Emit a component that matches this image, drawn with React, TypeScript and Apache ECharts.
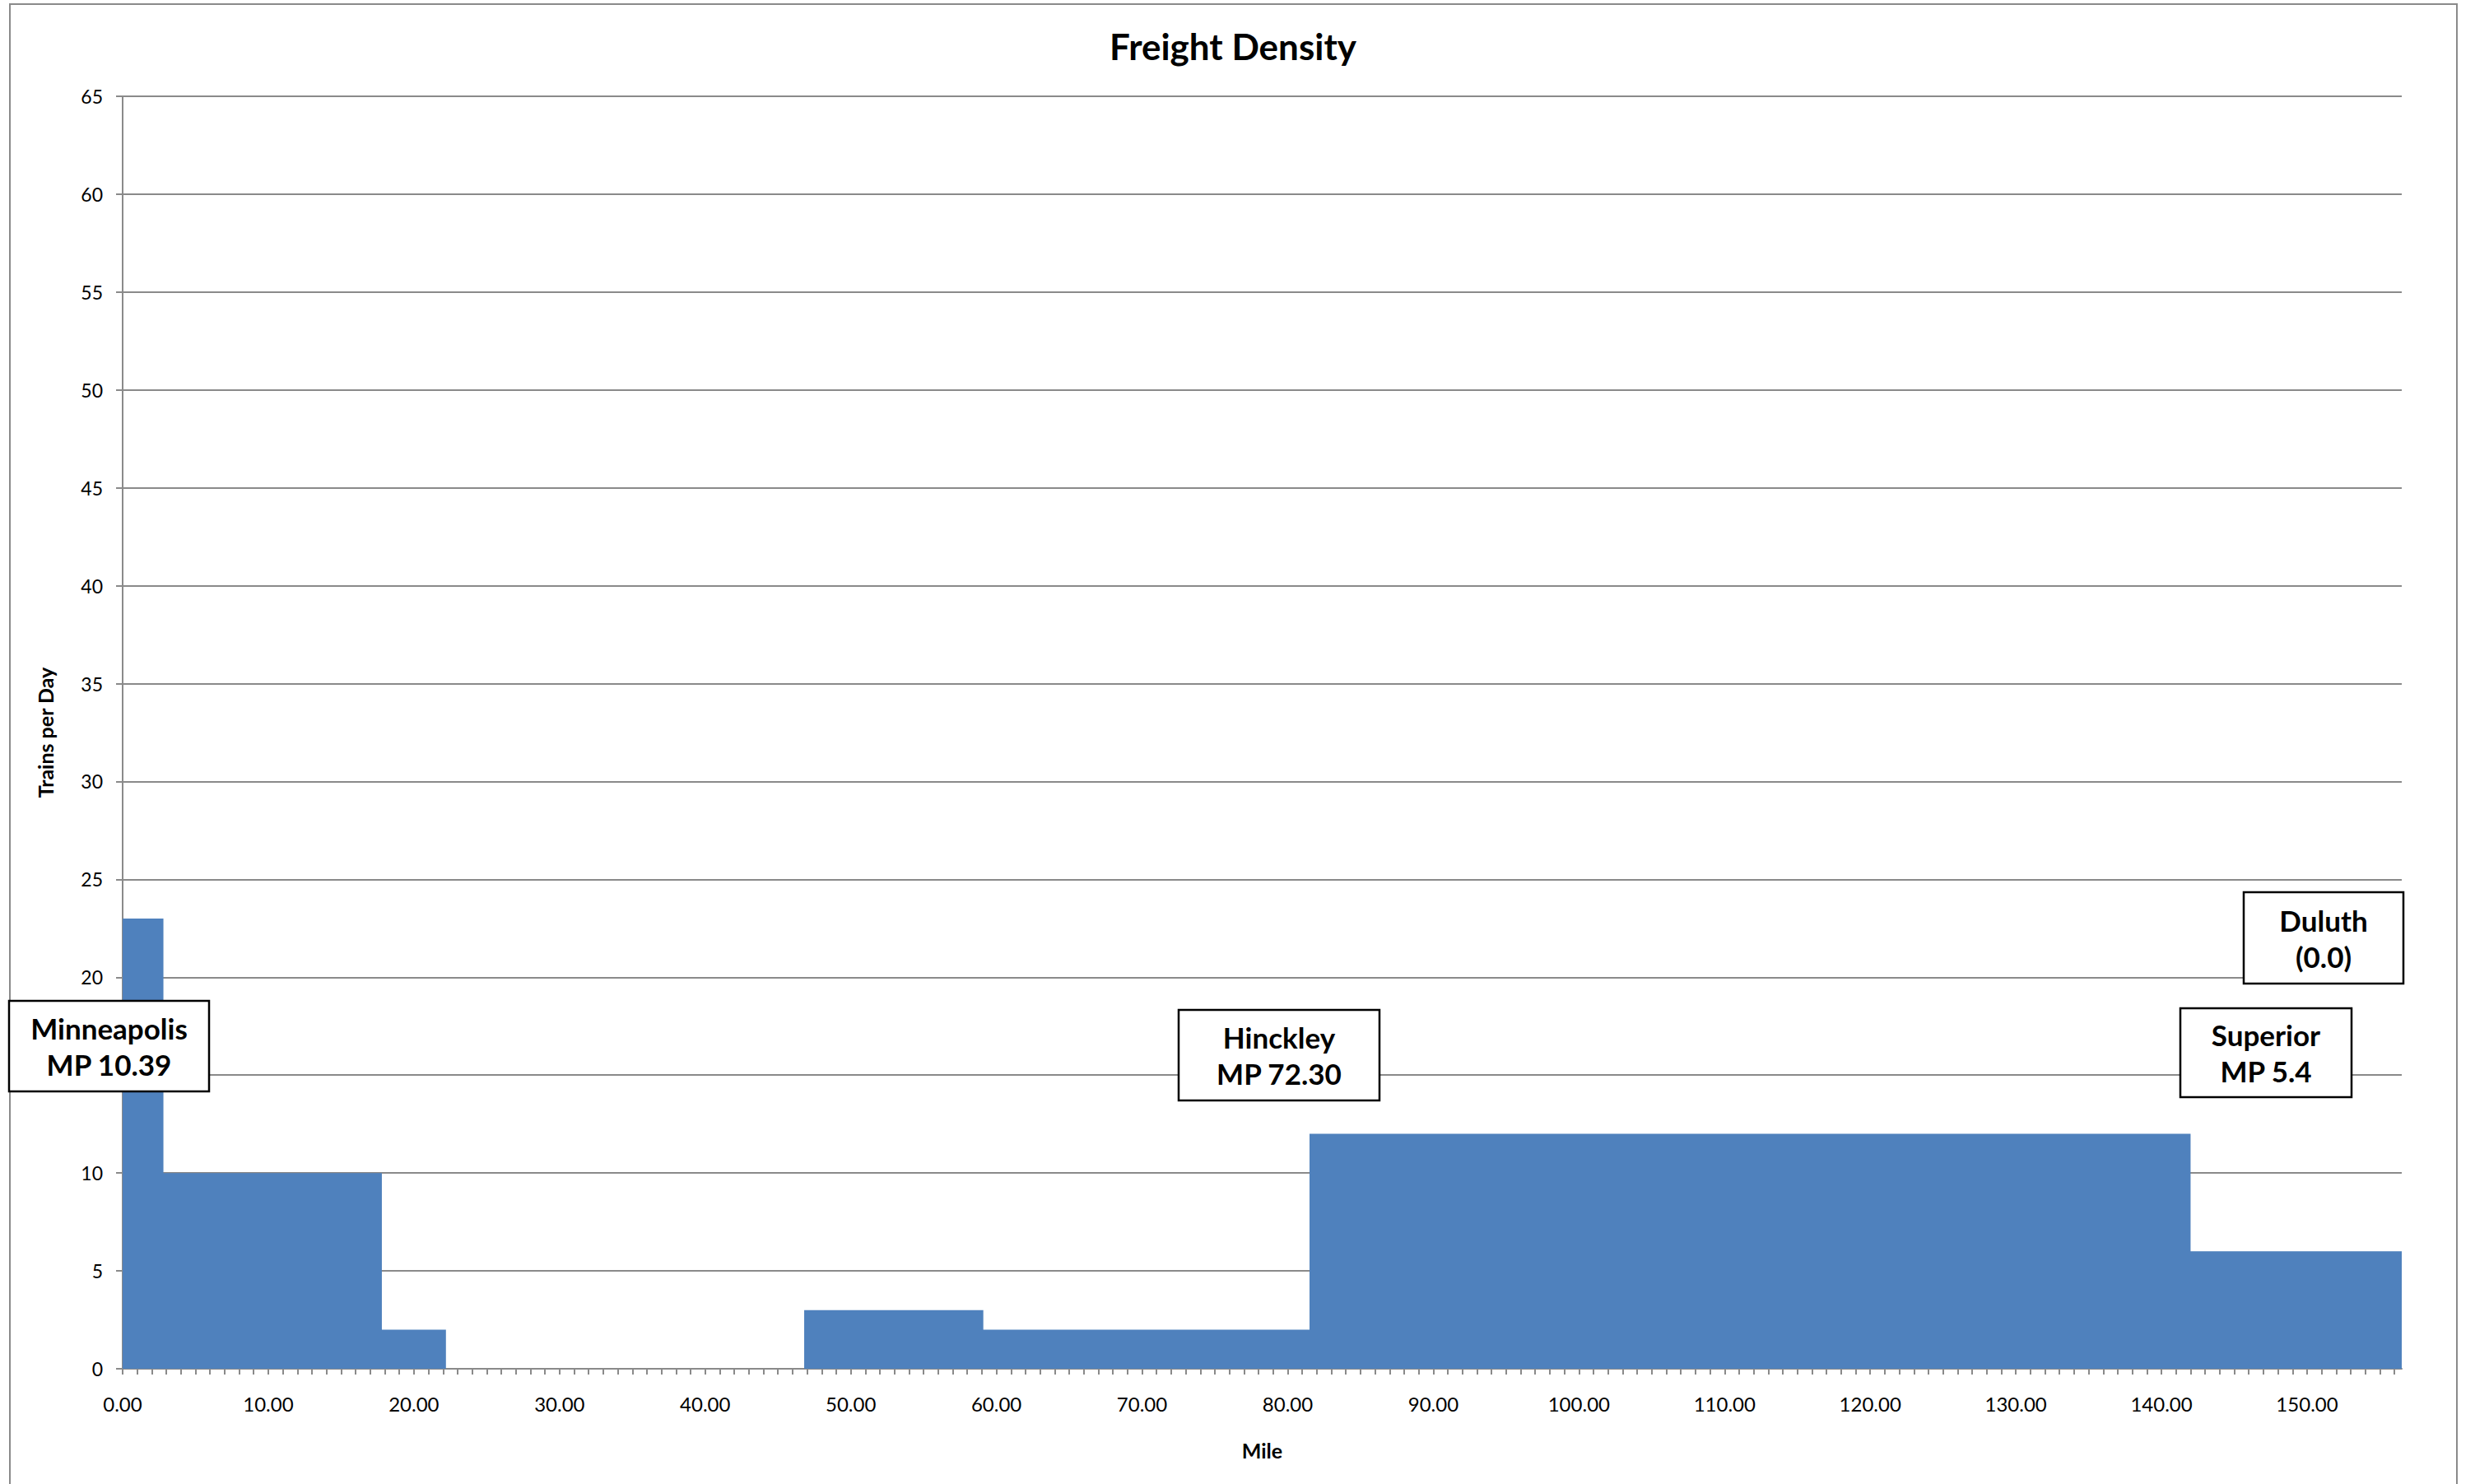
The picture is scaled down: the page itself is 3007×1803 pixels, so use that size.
import React, { useEffect, useRef } from "react";
import * as echarts from "echarts";

// Segment start miles and trains/day for each step of the freight density profile
const segmentStartMiles = [0, 2.8, 17.8, 22.2, 46.8, 59.1, 81.5, 142.0];
const trainsPerDay = [23, 10, 2, 0, 3, 2, 12, 6];
const routeEndMile = 156.5;

const xLabelValues = [0, 10, 20, 30, 40, 50, 60, 70, 80, 90, 100, 110, 120, 130, 140, 150];
const xTickLabels = ["0.00", "10.00", "20.00", "30.00", "40.00", "50.00", "60.00", "70.00", "80.00", "90.00", "100.00", "110.00", "120.00", "130.00", "140.00", "150.00"];

const yMin = 0;
const yMax = 65;
const yInterval = 5;

const annotations = [
  { lines: ["Minneapolis", "MP 10.39"], x: 11, y: 1216, w: 243, h: 110 },
  { lines: ["Hinckley", "MP 72.30"], x: 1432, y: 1227, w: 244, h: 110 },
  { lines: ["Superior", "MP 5.4"], x: 2649, y: 1225, w: 208, h: 108 },
  { lines: ["Duluth", "(0.0)"], x: 2726, y: 1084, w: 194, h: 111 },
];

const FONT = "Lato, 'Open Sans', sans-serif";
const GRAY = "#8a8a8a";

export default function App() {
  const ref = useRef<HTMLDivElement>(null);

  useEffect(() => {
    if (!ref.current) return;
    const chart = echarts.init(ref.current, null, { renderer: "svg" });

    const data: [number, number][] = segmentStartMiles.map((m, i) => [m, trainsPerDay[i]]);
    data.push([routeEndMile, trainsPerDay[trainsPerDay.length - 1]]);

    const minorTicks: number[] = [];
    for (let m = 0; m <= Math.floor(routeEndMile); m++) minorTicks.push(m);

    const labelMap: Record<string, string> = {};
    xLabelValues.forEach((v, i) => (labelMap[String(v)] = xTickLabels[i]));

    const graphics: any[] = [
      {
        type: "rect",
        silent: true,
        shape: { x: 12, y: 5, width: 2973, height: 1830 },
        style: { fill: "none", stroke: GRAY, lineWidth: 2 },
        z: 0,
      },
      {
        type: "text",
        x: 1498,
        y: 56,
        style: {
          text: "Freight Density",
          font: `bold 44px ${FONT}`,
          fill: "#000",
          align: "center",
          verticalAlign: "middle",
        },
        z: 10,
      },
    ];

    annotations.forEach((a) => {
      graphics.push({
        type: "group",
        z: 20,
        children: [
          {
            type: "rect",
            shape: { x: a.x, y: a.y, width: a.w, height: a.h },
            style: { fill: "#fff", stroke: "#000", lineWidth: 2.5 },
            z: 20,
          },
          {
            type: "text",
            x: a.x + a.w / 2,
            y: a.y + a.h / 2 - 22,
            style: {
              text: a.lines[0],
              font: `bold 35px ${FONT}`,
              fill: "#000",
              align: "center",
              verticalAlign: "middle",
            },
            z: 21,
          },
          {
            type: "text",
            x: a.x + a.w / 2,
            y: a.y + a.h / 2 + 22,
            style: {
              text: a.lines[1],
              font: `bold 35px ${FONT}`,
              fill: "#000",
              align: "center",
              verticalAlign: "middle",
            },
            z: 21,
          },
        ],
      });
    });

    chart.setOption({
      animation: false,
      backgroundColor: "#fff",
      grid: { left: 149, right: 89, top: 117, bottom: 140, containLabel: false },
      xAxis: {
        type: "value",
        min: 0,
        max: routeEndMile,
        interval: 10,
        name: "Mile",
        nameLocation: "middle",
        nameGap: 86,
        nameTextStyle: { fontFamily: FONT, fontWeight: "bold", fontSize: 25, color: "#000" },
        axisLine: { show: true, onZero: false, lineStyle: { color: GRAY, width: 2 } },
        axisTick: {
          show: true,
          length: 7,
          customValues: minorTicks,
          lineStyle: { color: GRAY, width: 2 },
        },
        axisLabel: {
          customValues: xLabelValues,
          formatter: (v: number) => labelMap[String(v)] ?? v.toFixed(2),
          fontFamily: FONT,
          fontSize: 24,
          color: "#000",
          margin: 30,
        },
        splitLine: { show: false },
      },
      yAxis: {
        type: "value",
        min: yMin,
        max: yMax,
        interval: yInterval,
        name: "Trains per Day",
        nameLocation: "middle",
        nameRotate: 90,
        nameGap: 82,
        nameTextStyle: { fontFamily: FONT, fontWeight: "bold", fontSize: 25, color: "#000" },
        axisLine: { show: true, lineStyle: { color: GRAY, width: 2 } },
        axisTick: { show: true, length: 8, lineStyle: { color: GRAY, width: 2 } },
        axisLabel: { fontFamily: FONT, fontSize: 23, color: "#000", margin: 24 },
        splitLine: { show: true, lineStyle: { color: GRAY, width: 2 } },
      },
      series: [
        {
          type: "line",
          step: "end",
          data,
          symbol: "none",
          lineStyle: { width: 0, color: "#4F81BD" },
          itemStyle: { color: "#4F81BD" },
          areaStyle: { color: "#4F81BD", opacity: 1 },
          z: 3,
        },
      ],
      graphic: graphics,
    });

    return () => chart.dispose();
  }, []);

  return (
    <div
      ref={ref}
      style={{ position: "fixed", left: 0, top: 0, width: 3007, height: 1803 }}
    />
  );
}
